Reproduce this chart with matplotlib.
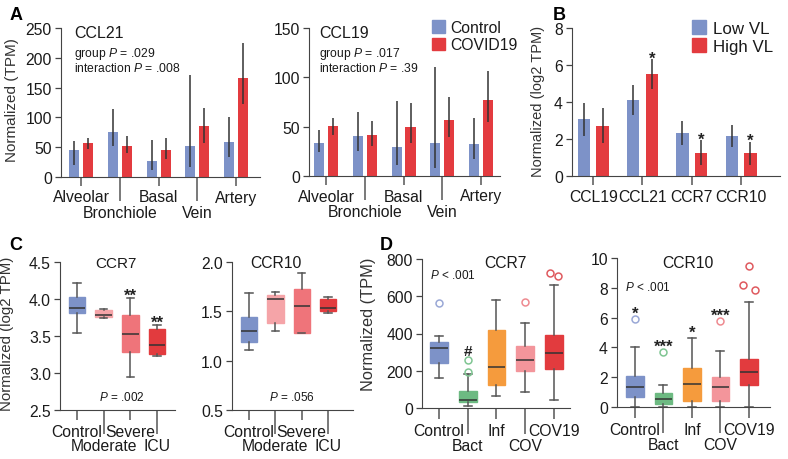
import numpy as np
import matplotlib
matplotlib.use("Agg")
import matplotlib.pyplot as plt
from matplotlib.patches import Patch

plt.rcParams['font.family'] = ['Liberation Sans', 'DejaVu Sans']
plt.rcParams['mathtext.fontset'] = 'custom'
plt.rcParams['mathtext.rm'] = 'Liberation Sans'
plt.rcParams['mathtext.it'] = 'Liberation Sans:italic'
plt.rcParams['axes.edgecolor'] = '#444444'
plt.rcParams['xtick.color'] = '#555555'
plt.rcParams['ytick.color'] = '#444444'
plt.rcParams['xtick.labelcolor'] = '#1a1a1a'
plt.rcParams['ytick.labelcolor'] = '#1a1a1a'
plt.rcParams['text.color'] = '#1a1a1a'

# ---- data: panel A (tissue sites) ----
sites = ['Alveolar', 'Bronchiole', 'Basal', 'Vein', 'Artery']
ccl21_ctrl = [45, 76, 27, 52, 59]
ccl21_ctrl_lo = [20, 52, 12, 16, 33]
ccl21_ctrl_hi = [60, 114, 62, 171, 100]
ccl21_cov = [57, 52, 45, 85, 166]
ccl21_cov_lo = [47, 40, 31, 57, 122]
ccl21_cov_hi = [66, 69, 65, 115, 224]

ccl19_ctrl = [33, 41, 29.5, 33, 32]
ccl19_ctrl_lo = [24, 25.5, 11, 8, 17]
ccl19_ctrl_hi = [46.5, 64.5, 75.7, 110, 59]
ccl19_cov = [50.5, 42, 50, 57, 77]
ccl19_cov_lo = [42, 30.5, 33, 40, 55]
ccl19_cov_hi = [59, 56, 73.6, 80, 106.5]

# ---- data: panel B (viral load) ----
genes_b = ['CCL19', 'CCL21', 'CCR7', 'CCR10']
low_vl = [3.08, 4.11, 2.32, 2.17]
low_vl_lo = [2.17, 3.31, 1.67, 1.57]
low_vl_hi = [3.95, 4.92, 2.99, 2.77]
high_vl = [2.71, 5.50, 1.27, 1.25]
high_vl_lo = [1.77, 4.71, 0.58, 0.62]
high_vl_hi = [3.66, 6.33, 1.94, 1.86]
high_vl_sig = ['', '*', '*', '*']

# ---- data: panel C (severity) ----
severity = ['Control', 'Moderate', 'Severe', 'ICU']
ccr7_sev_med = [3.88, 3.79, 3.53, 3.38]
ccr7_sev_q1 = [3.81, 3.755, 3.29, 3.26]
ccr7_sev_q3 = [4.03, 3.855, 3.79, 3.60]
ccr7_sev_lo = [3.54, 3.74, 2.95, 3.23]
ccr7_sev_hi = [4.22, 3.87, 4.01, 3.65]
ccr7_sev_sig = ['', '', '**', '**']

ccr10_sev_med = [1.30, 1.62, 1.555, 1.535]
ccr10_sev_q1 = [1.19, 1.38, 1.285, 1.50]
ccr10_sev_q3 = [1.44, 1.67, 1.73, 1.62]
ccr10_sev_lo = [1.11, 1.30, 1.28, 1.48]
ccr10_sev_hi = [1.69, 1.70, 1.89, 1.65]

# ---- data: panel D (cohorts) ----
cohorts = ['Control', 'Bact', 'Inf', 'COV', 'COV19']
ccr7_d_med = [324, 43, 218, 258, 293]
ccr7_d_q1 = [240, 30, 125, 200, 211]
ccr7_d_q3 = [356, 89, 419, 331, 394]
ccr7_d_lo = [159, 12, 66, 84, 41]
ccr7_d_hi = [385, 182, 580, 454, 660]
ccr7_d_fliers = [[563], [193, 258], [], [571], [724, 707]]
ccr7_d_sig = ['', '#', '', '', '']

ccr10_d_med = [1.35, 0.56, 1.57, 1.35, 2.36]
ccr10_d_q1 = [0.67, 0.18, 0.40, 0.40, 1.46]
ccr10_d_q3 = [2.09, 0.97, 2.61, 1.98, 3.21]
ccr10_d_lo = [0.0, 0.0, 0.0, 0.0, 0.0]
ccr10_d_hi = [4.00, 1.46, 4.63, 3.73, 7.03]
ccr10_d_fliers = [[5.91], [3.66], [], [5.75], [9.46, 8.20, 7.87]]
ccr10_d_sig = ['*', '***', '*', '***', '']

# ---- styles ----
BLUE = '#7d92c8'
RED = '#e33b3f'
sev_colors = [BLUE, '#f5a4a8', '#ef747a', '#e23b3e']
coh_colors = [BLUE, '#6dba82', '#f59b3d', '#f3959b', '#e23b3e']
coh_flier_colors = ['#9aa8d6', '#7fc592', '#f59b3d', '#ee8a90', '#df5a5f']
# horizontal jitter for overlapping outliers (style only)
ccr7_flier_dx = [[0], [0, 0], [], [0], [-0.15, 0.15]]
ccr10_flier_dx = [[0], [0], [], [0], [0, -0.2, 0.2]]
TICK_FS = 11.3

W, H = 788, 460
fig = plt.figure(figsize=(W / 100, H / 100), dpi=100)


def add_ax(l, r, t, b):
    ax = fig.add_axes([l / W, 1 - b / H, (r - l) / W, (b - t) / H])
    ax.spines[['top', 'right']].set_visible(False)
    ax.tick_params(axis='y', direction='out', length=4.5, width=0.9, pad=2, labelsize=TICK_FS)
    return ax


def ptext(x, y, s, **kw):
    return fig.text(x / W, 1 - y / H, s, **kw)


def stagger(ax, labels, short=6.5, long=17.5):
    pos = np.arange(len(labels))
    ax.set_xticks(pos[0::2], labels[0::2])
    ax.set_xticks(pos[1::2], labels[1::2], minor=True)
    ax.tick_params(axis='x', which='major', direction='out', length=short, width=1.1, pad=2.5, labelsize=TICK_FS)
    ax.tick_params(axis='x', which='minor', direction='out', length=long, width=1.1, pad=2.5, labelsize=TICK_FS)


def bar_pair(ax, m1, lo1, hi1, m2, lo2, hi2, off, w, c1, c2):
    x = np.arange(len(m1))
    for xs, m, lo, hi, c in [(x - off, m1, lo1, hi1, c1), (x + off, m2, lo2, hi2, c2)]:
        m = np.array(m)
        ax.bar(xs, m, w, color=c, zorder=2)
        yerr = [m - np.array(lo), np.array(hi) - m]
        ax.errorbar(xs, m, yerr=yerr, fmt='none', ecolor='#333333', elinewidth=1.1, capsize=0, zorder=3)


def boxes(ax, med, q1, q3, lo, hi, colors, fliers=None, flier_colors=None, flier_dx=None, width=0.62):
    stats = []
    for i in range(len(med)):
        stats.append(dict(med=med[i], q1=q1[i], q3=q3[i], whislo=lo[i], whishi=hi[i], fliers=[]))
    bp = ax.bxp(stats, positions=np.arange(len(med)), widths=width, patch_artist=True,
                capwidths=width * 0.45, showfliers=False,
                medianprops=dict(color='#333333', lw=1.1),
                whiskerprops=dict(color='#555555', lw=1.1),
                capprops=dict(color='#555555', lw=1.1))
    for p, c in zip(bp['boxes'], colors):
        p.set_facecolor(c)
        p.set_edgecolor(c)
    if fliers is not None:
        for i, fl in enumerate(fliers):
            for v, dx in zip(fl, flier_dx[i]):
                ax.plot(i + dx, v, 'o', ms=5, mfc='none', mec=flier_colors[i], mew=1.1, clip_on=False)


def mark(ax, x, top, s, gap_px, fs=12):
    # place the glyph centre gap_px above the top of the mark
    glyph_mid = 0.58 if '*' in s else 0.36
    off = gap_px * 0.72 - glyph_mid * fs
    ax.annotate(s, (x, top), xytext=(0, off), textcoords='offset points',
                ha='center', va='baseline', fontsize=fs, fontweight='bold', color='#222222')


# ---------------- Panel A: CCL21 ----------------
ax = add_ax(61, 260, 29, 178)
bar_pair(ax, ccl21_ctrl, ccl21_ctrl_lo, ccl21_ctrl_hi, ccl21_cov, ccl21_cov_lo, ccl21_cov_hi,
         0.18, 0.26, BLUE, RED)
ax.set_ylim(0, 250)
ax.set_yticks([0, 50, 100, 150, 200, 250])
ax.set_xlim(-0.52, 4.62)
stagger(ax, sites)
ptext(74, 38, 'CCL21', fontsize=11.5)
ptext(74, 57, 'group $P$ = .029', fontsize=8.7)
ptext(74, 72, 'interaction $P$ = .008', fontsize=8.7)
ptext(12, 100, 'Normalized (TPM)', rotation=90, ha='center', va='center', fontsize=11, color='#333333')

# ---------------- Panel A: CCL19 ----------------
ax = add_ax(309, 500, 29, 177)
bar_pair(ax, ccl19_ctrl, ccl19_ctrl_lo, ccl19_ctrl_hi, ccl19_cov, ccl19_cov_lo, ccl19_cov_hi,
         0.18, 0.26, BLUE, RED)
ax.set_ylim(0, 150)
ax.set_yticks([0, 50, 100, 150])
ax.set_xlim(-0.44, 4.49)
stagger(ax, sites)
ptext(319, 38, 'CCL19', fontsize=11.5)
ptext(319, 57, 'group $P$ = .017', fontsize=8.7)
ptext(319, 72, 'interaction $P$ = .39', fontsize=8.7)
fig.legend([Patch(color=BLUE), Patch(color=RED)], ['Control', 'COVID19'],
           loc='upper left', bbox_to_anchor=(432 / W, 1 - 21 / H), frameon=False,
           handlelength=0.85, handleheight=0.85, handletextpad=0.3, labelspacing=0.15,
           fontsize=11.3, borderpad=0, borderaxespad=0)

# ---------------- Panel B ----------------
ax = add_ax(572, 780, 29, 177)
bar_pair(ax, low_vl, low_vl_lo, low_vl_hi, high_vl, high_vl_lo, high_vl_hi,
         0.19, 0.25, BLUE, RED)
ax.set_ylim(0, 8)
ax.set_yticks([0, 2, 4, 6, 8])
ax.set_xlim(-0.43, 3.79)
ax.set_xticks(np.arange(len(genes_b)), genes_b)
ax.tick_params(axis='x', direction='out', length=6.5, width=1.1, pad=2.5, labelsize=TICK_FS)
for i, s in enumerate(high_vl_sig):
    if s:
        mark(ax, i + 0.19, high_vl_hi[i], s, 6)
ptext(538, 101, 'Normalized (log2 TPM)', rotation=90, ha='center', va='center', fontsize=10.5, color='#333333')
fig.legend([Patch(color=BLUE), Patch(color=RED)], ['Low VL', 'High VL'],
           loc='upper left', bbox_to_anchor=(692 / W, 1 - 21 / H), frameon=False,
           handlelength=0.85, handleheight=0.85, handletextpad=0.4, labelspacing=0.15,
           fontsize=12.2, borderpad=0, borderaxespad=0)

# ---------------- Panel C: CCR7 ----------------
ax = add_ax(60, 175, 263, 411)
boxes(ax, ccr7_sev_med, ccr7_sev_q1, ccr7_sev_q3, ccr7_sev_lo, ccr7_sev_hi, sev_colors)
ax.set_ylim(2.5, 4.5)
ax.set_yticks([2.5, 3.0, 3.5, 4.0, 4.5], ['2.5', '3.0', '3.5', '4.0', '4.5'])
ax.set_xlim(-0.64, 3.67)
stagger(ax, severity, short=7.5, long=17.5)
for i, s in enumerate(ccr7_sev_sig):
    if s:
        mark(ax, i, ccr7_sev_hi[i], s, 8)
ptext(116, 268, 'CCR7', ha='center', fontsize=11)
ptext(122, 401, '$P$ = .002', ha='center', fontsize=8.5)
ptext(7, 334, 'Normalized (log2 TPM)', rotation=90, ha='center', va='center', fontsize=10.8, color='#333333')

# ---------------- Panel C: CCR10 ----------------
ax = add_ax(232, 353, 263, 411)
boxes(ax, ccr10_sev_med, ccr10_sev_q1, ccr10_sev_q3, ccr10_sev_lo, ccr10_sev_hi, sev_colors)
ax.set_ylim(0.5, 2.0)
ax.set_yticks([0.5, 1.0, 1.5, 2.0], ['0.5', '1.0', '1.5', '2.0'])
ax.set_xlim(-0.65, 3.95)
stagger(ax, severity, short=7.5, long=17.5)
ptext(276, 268, 'CCR10', ha='center', fontsize=11.3)
ptext(292, 401, '$P$ = .056', ha='center', fontsize=8.5)

# ---------------- Panel D: CCR7 ----------------
ax = add_ax(422, 570, 260, 409)
boxes(ax, ccr7_d_med, ccr7_d_q1, ccr7_d_q3, ccr7_d_lo, ccr7_d_hi, coh_colors,
      ccr7_d_fliers, coh_flier_colors, ccr7_flier_dx)
ax.set_ylim(0, 800)
ax.set_yticks([0, 200, 400, 600, 800])
ax.set_xlim(-0.59, 4.56)
stagger(ax, cohorts, short=8, long=19)
for i, s in enumerate(ccr7_d_sig):
    if s:
        mark(ax, i, max([ccr7_d_hi[i]] + ccr7_d_fliers[i]), s, 10, fs=11)
ptext(505, 268, 'CCR7', ha='center', fontsize=11.3)
ptext(453, 279, '$P$ < .001', ha='center', fontsize=8.5)
ptext(368, 324, 'Normalized (TPM)', rotation=90, ha='center', va='center', fontsize=11.8, color='#333333')

# ---------------- Panel D: CCR10 ----------------
ax = add_ax(617, 770, 259, 408)
boxes(ax, ccr10_d_med, ccr10_d_q1, ccr10_d_q3, ccr10_d_lo, ccr10_d_hi, coh_colors,
      ccr10_d_fliers, coh_flier_colors, ccr10_flier_dx)
ax.set_ylim(0, 10)
ax.set_yticks([0, 2, 4, 6, 8, 10])
ax.set_xlim(-0.63, 4.74)
stagger(ax, cohorts, short=8, long=19)
for i, s in enumerate(ccr10_d_sig):
    if s:
        mark(ax, i, max([ccr10_d_hi[i]] + ccr10_d_fliers[i]), s, 11)
ptext(688, 268, 'CCR10', ha='center', fontsize=11.3)
ptext(648, 291, '$P$ < .001', ha='center', fontsize=8.5)

# panel letters
for x, y, s in [(10, 20, 'A'), (553, 20, 'B'), (9, 250, 'C'), (380, 250, 'D')]:
    ptext(x, y, s, fontsize=13, fontweight='bold', color='black')

fig.savefig('out.png', dpi=100)
